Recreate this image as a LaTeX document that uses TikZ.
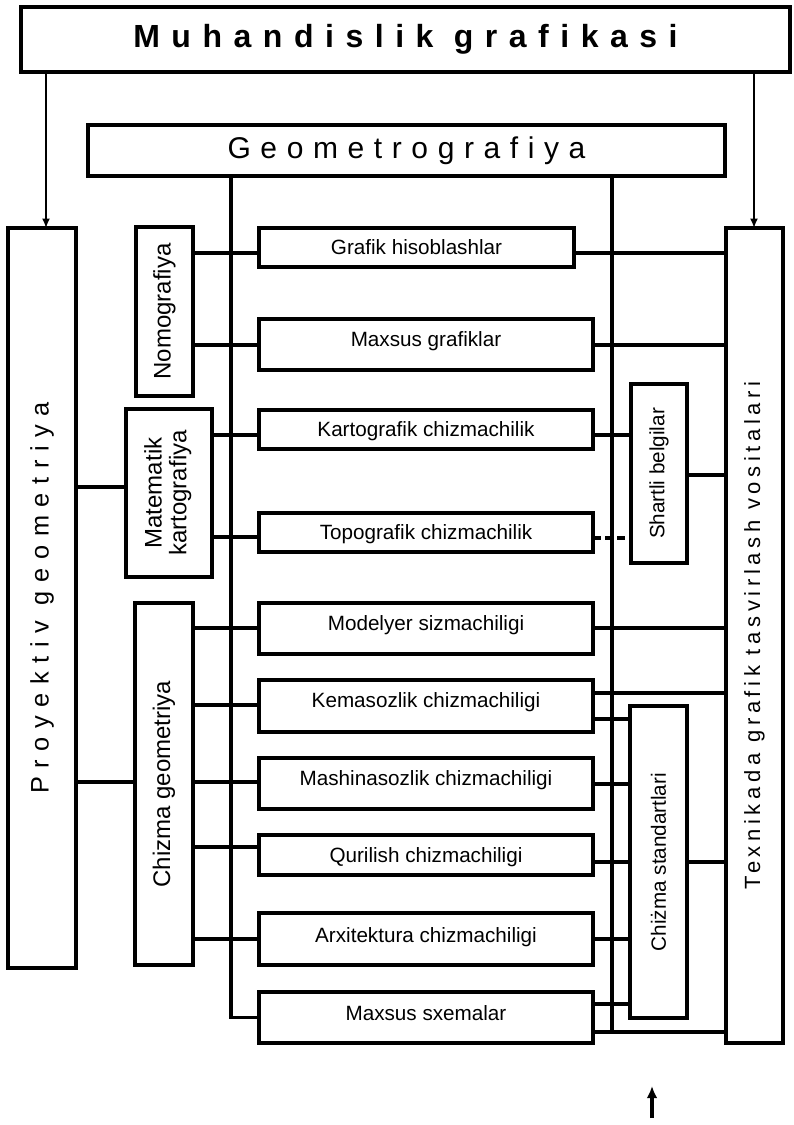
\documentclass[tikz,border=0pt]{standalone}
\usepackage{fontspec}
\setmainfont{Liberation Sans}
\usetikzlibrary{arrows.meta,calc}
\newcommand\mkbox[6]{\node[#1, minimum width={(#4-#2)*0.75pt}, minimum height={(#5-#3)*0.75pt}] (#6) at ({(#2+#4)/2},{(#3+#5)/2})}
\tikzset{
  box/.style={draw, line width=2.4pt, fill=white, inner sep=0pt, outer sep=0pt},
  mid/.style={box, font={\fontsize{15.5}{18}\selectfont}, text height=11pt, text depth=#1},
  mid/.default=0pt,
  vbox/.style={box, font={\fontsize{18}{19}\selectfont}},
  sbox/.style={box, font={\fontsize{15.5}{18}\selectfont}},
  conn/.style={line width=2.4pt},
  dconn/.style={line width=2.4pt, dash pattern=on 6pt off 3pt},
  arr/.style={line width=2pt, -{Latex[length=7pt,width=6pt]}},
  bigarr/.style={line width=2.6pt, -{Latex[length=9pt,width=8pt]}},
}
\begin{document}
\begin{tikzpicture}[x=0.75pt,y=-0.75pt]
\fill[white] (0,0) rectangle (793,1125);
\useasboundingbox (0,0) rectangle (793,1125);

% main boxes
\mkbox{box, line width=2.8pt, font={\fontsize{24}{28}\selectfont\bfseries\addfontfeatures{LetterSpace=36}}}{21}{7}{790}{72}{top} {Muhandislik grafikasi};
\mkbox{box, font={\fontsize{22.5}{26}\selectfont\addfontfeatures{LetterSpace=32}}}{88}{125}{725}{176}{geo} {Geometrografiya};
\mkbox{box}{8}{228}{76}{968}{pro} {\rotatebox{90}{\fontsize{19}{22}\selectfont\addfontfeatures{LetterSpace=34}Proyektiv geometriya}};
\mkbox{box}{726}{228}{783}{1043}{tex} {\rotatebox{90}{\fontsize{16.5}{20}\selectfont\addfontfeatures{LetterSpace=21}Texnikada grafik tasvirlash vositalari}};

% left vertical boxes
\mkbox{vbox}{136}{227}{193}{396}{nom} {\rotatebox{90}{Nomografiya}};
\mkbox{vbox}{126}{409}{212}{577}{mk} {\rotatebox{90}{\begin{tabular}{@{}c@{}}Matematik\\[-0.5pt]kartografiya\end{tabular}}};
\mkbox{vbox}{135}{603}{193}{965}{cg} {\rotatebox{90}{Chizma geometriya}};

% right vertical boxes
\mkbox{sbox}{631}{384}{687}{563}{sb} {\rotatebox{90}{Shartli belgilar}};
\mkbox{sbox}{630}{706}{687}{1018}{cs} {\rotatebox{90}{Chiżma standartlari}};

% middle boxes
\mkbox{mid}{259}{228}{574}{267}{gh} {Grafik hisoblashlar};
\mkbox{mid=7.5pt}{259}{319}{593}{370}{mg} {Maxsus grafiklar};
\mkbox{mid}{259}{410}{593}{449}{kc} {Kartografik chizmachilik};
\mkbox{mid}{259}{513}{593}{552}{tc} {Topografik chizmachilik};
\mkbox{mid=7.5pt}{259}{603}{593}{654}{ms} {Modelyer sizmachiligi};
\mkbox{mid=9pt}{259}{680}{593}{732}{ke} {Kemasozlik chizmachiligi};
\mkbox{mid=7.5pt}{259}{758}{593}{809}{ma} {Mashinasozlik chizmachiligi};
\mkbox{mid}{259}{835}{593}{875}{qu} {Qurilish chizmachiligi};
\mkbox{mid=6pt}{259}{913}{593}{965}{ar} {Arxitektura chizmachiligi};
\mkbox{mid=6pt}{259}{992}{593}{1043}{mxs} {Maxsus sxemalar};

% arrows from the title
\coordinate (pa) at (46,0);
\coordinate (ta) at (754,0);
\draw[arr] (pa |- top.south) -- (pa |- pro.north);
\draw[arr] (ta |- top.south) -- (ta |- tex.north);

% buses from Geometrografiya
\coordinate (lb) at (231,0);
\coordinate (rbj) at (612,1032);
\draw[conn] (lb |- geo.south) |- (mxs.west);
\draw[conn] (rbj |- geo.south) -- (rbj);

% left connectors
\draw[conn] (nom.east |- 0,253) -- (gh.west |- 0,253);
\draw[conn] (nom.east |- 0,345) -- (mg.west |- 0,345);
\draw[conn] (mk.east |- 0,435) -- (kc.west |- 0,435);
\draw[conn] (mk.east |- 0,537) -- (tc.west |- 0,537);
\draw[conn] (pro.east |- 0,487) -- (mk.west |- 0,487);
\draw[conn] (pro.east |- 0,782) -- (cg.west |- 0,782);
\draw[conn] (cg.east |- 0,628) -- (ms.west |- 0,628);
\draw[conn] (cg.east |- 0,705) -- (ke.west |- 0,705);
\draw[conn] (cg.east |- 0,782) -- (ma.west |- 0,782);
\draw[conn] (cg.east |- 0,847) -- (qu.west |- 0,847);
\draw[conn] (cg.east |- 0,939) -- (ar.west |- 0,939);

% right connectors
\draw[conn] (gh.east |- 0,253) -- (tex.west |- 0,253);
\draw[conn] (mg.east |- 0,345) -- (tex.west |- 0,345);
\draw[conn] (kc.east |- 0,435) -- (sb.west |- 0,435);
\draw[dconn] (tc.east |- 0,538) -- (sb.west |- 0,538);
\draw[conn] (sb.east |- 0,475) -- (tex.west |- 0,475);
\draw[conn] (ms.east |- 0,628) -- (tex.west |- 0,628);
\draw[conn] (ke.east |- 0,693) -- (tex.west |- 0,693);
\draw[conn] (ke.east |- 0,719) -- (cs.west |- 0,719);
\draw[conn] (ma.east |- 0,784) -- (cs.west |- 0,784);
\draw[conn] (qu.east |- 0,862) -- (cs.west |- 0,862);
\draw[conn] (cs.east |- 0,862) -- (tex.west |- 0,862);
\draw[conn] (ar.east |- 0,939) -- (cs.west |- 0,939);
\draw[conn] (mxs.east |- 0,1004) -- (cs.west |- 0,1004);
\draw[conn] (mxs.east |- rbj) -- (tex.west |- rbj);

% free arrow at the bottom
\coordinate (ua) at (652,1118);
\coordinate (ub) at (652,1086);
\draw[bigarr] (ua) -- (ub);
\end{tikzpicture}
\end{document}
